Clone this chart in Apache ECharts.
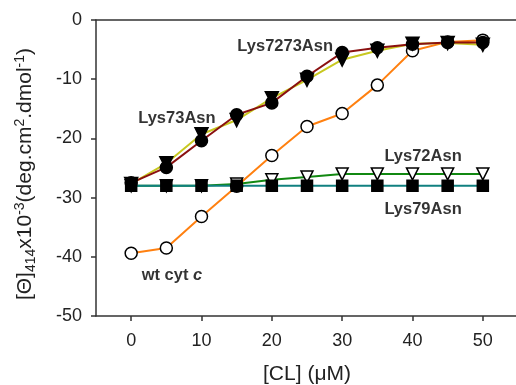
<!DOCTYPE html>
<html><head><meta charset="utf-8">
<script src="https://cdn.jsdelivr.net/npm/echarts@6/dist/echarts.min.js"></script>
<style>html,body{margin:0;padding:0;background:#fff}#c{width:516px;height:385px}</style>
</head><body><div id="c"></div>
<script>
var cl = [0, 5, 10, 15, 20, 25, 30, 35, 40, 45, 50];
var lys7273 = [-27.5, -24.9, -20.4, -16.0, -14.0, -9.5, -5.5, -4.7, -4.1, -3.8, -3.8];
var lys73 = [-27.7, -24.2, -19.3, -16.9, -13.2, -10.1, -6.7, -5.2, -4.0, -3.9, -4.2];
var wt = [-39.4, -38.5, -33.2, -28.1, -22.9, -18.0, -15.8, -11.0, -5.2, -3.7, -3.4];
var lys72 = [-28.0, -28.0, -28.0, -27.7, -27.0, -26.5, -26.0, -26.0, -26.0, -26.0, -26.0];
var lys79 = [-28.0, -28.0, -28.0, -28.0, -28.0, -28.0, -28.0, -28.0, -28.0, -28.0, -28.0];
var xTicks = [0, 10, 20, 30, 40, 50];
var yTicks = [0, -10, -20, -30, -40, -50];
var annotations = [
  {text: 'Lys7273Asn', x: 21.9, y: -4.5},
  {text: 'Lys73Asn', x: 6.5, y: -16.6},
  {text: 'Lys72Asn', x: 41.5, y: -23.0},
  {text: 'Lys79Asn', x: 41.5, y: -32.0},
  {text: '{b|wt cyt }{i|c}', x: 5.8, y: -43.2}
];

function pairs(ys){ return cl.map(function(x,i){ return [x, ys[i]]; }); }
var FF = 'Liberation Sans, Arial, sans-serif';
var chart = echarts.init(document.getElementById('c'), null, {renderer:'canvas'});
function mk(name, ys, lineColor, symbol, size, fill, rot){
  return {
    name: name, type: 'line', data: pairs(ys), symbol: symbol, symbolSize: size, symbolRotate: rot || 0,
    showAllSymbol: true, animation: false,
    lineStyle: {color: lineColor, width: 2},
    itemStyle: {color: fill, borderColor: '#000', borderWidth: 1.5, opacity: 1}
  };
}
chart.setOption({
  animation: false,
  grid: {left: 96, right: -2, top: 20, bottom: 69, outerBoundsMode: 'none', containLabel: false},
  xAxis: [{
    type: 'value', min: -5, max: 55, position: 'bottom',
    axisLine: {onZero: false, lineStyle: {color: '#333', width: 1.5}},
    axisTick: {show: true, length: 5, inside: false, customValues: xTicks, lineStyle: {color: '#333', width: 1.5}},
    axisLabel: {customValues: xTicks, color: '#222', fontSize: 18, fontFamily: FF, margin: 16},
    splitLine: {show: false},
    name: '[CL] (\u03bcM)', nameLocation: 'middle', nameGap: 48,
    nameTextStyle: {color: '#222', fontSize: 21, fontFamily: FF}
  }, {
    type: 'value', min: -5, max: 55, position: 'top',
    axisLine: {onZero: false, lineStyle: {color: '#333', width: 1.5}},
    axisTick: {show: false}, axisLabel: {show: false}, splitLine: {show: false}
  }],
  yAxis: {
    type: 'value', min: -50, max: 0, interval: 10,
    axisLine: {show: true, onZero: false, lineStyle: {color: '#333', width: 1.5}},
    axisTick: {show: true, length: 5, lineStyle: {color: '#333', width: 1.5}},
    axisLabel: {color: '#222', fontSize: 18, fontFamily: FF, margin: 14},
    splitLine: {show: false},
    name: '{n|[\u0398]}{sub|414}{n|x10}{sup|-3}{n|(deg.cm}{sup|2}{n|.dmol}{sup|-1}{n|)}',
    nameLocation: 'middle', nameRotate: 90, nameGap: 58,
    nameTextStyle: {
      color: '#222', fontFamily: FF, padding: [0, 12, 0, 0],
      rich: {
        n: {fontSize: 21, fontFamily: FF, color: '#222', lineHeight: 25, verticalAlign: 'middle'},
        sup: {fontSize: 14, fontFamily: FF, color: '#222', verticalAlign: 'top'},
        sub: {fontSize: 14, fontFamily: FF, color: '#222', verticalAlign: 'bottom'}
      }
    }
  },
  series: [
    mk('wt cyt c', wt, '#ff8010', 'circle', 12, '#fff'),
    mk('Lys72Asn', lys72, '#118811', 'triangle', 12, '#fff', 180),
    mk('Lys79Asn', lys79, '#108080', 'rect', 11, '#000'),
    mk('Lys73Asn', lys73, '#c8c820', 'triangle', 13, '#000', 180),
    mk('Lys7273Asn', lys7273, '#8a1010', 'circle', 12, '#000'),
    {
      type: 'scatter', symbolSize: 0, silent: true, animation: false,
      data: annotations.map(function(a){ return {value: [a.x, a.y], label: {formatter: a.text}}; }),
      label: {
        show: true, position: 'inside', color: '#000', fontSize: 16.5, fontWeight: 'bold', fontFamily: FF,
        textBorderWidth: 0,
        rich: {
          b: {fontSize: 16.5, fontWeight: 'bold', fontFamily: FF, color: '#000', textBorderWidth: 0},
          i: {fontSize: 16.5, fontWeight: 'bold', fontStyle: 'italic', fontFamily: FF, color: '#000', textBorderWidth: 0}
        }
      }
    }
  ]
});
</script></body></html>
